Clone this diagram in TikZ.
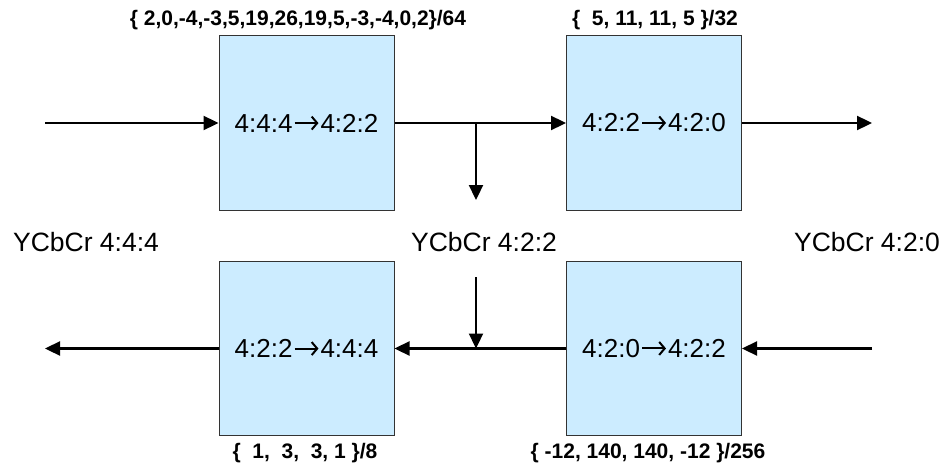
\documentclass[tikz,border=0pt]{standalone}
\usepackage{fontspec}
\setmainfont{Liberation Sans}
\usetikzlibrary{arrows.meta}
\newcommand{\rarr}{\kern1pt\tikz[baseline=0pt]\draw[line width=2pt,line cap=butt,-{Straight Barb[length=5.5pt,width=13pt]}] (0pt,9pt) -- (24pt,9pt);\kern1pt}
\begin{document}
\begin{tikzpicture}[x=1pt,y=-1pt,
  conv/.style={draw=black!80, line width=1pt, fill={rgb,255:red,204;green,236;blue,255},
    minimum width=175pt, minimum height=174pt, inner sep=0pt,
    font=\fontsize{26}{30}\selectfont},
  coef/.style={font=\bfseries\fontsize{21}{25}\selectfont, inner sep=0pt},
  fmt/.style={font=\fontsize{26.5}{30}\selectfont, inner sep=0pt},
  link/.style={line width=2.3pt, -{Triangle[length=15pt,width=14pt]}}]
\useasboundingbox (0,0) rectangle (947,468);
\node[conv] (b1) at (306.5,123) {4:4:4\rarr4:2:2};
\node[conv] (b2) at (654,123) {4:2:2\rarr4:2:0};
\node[conv] (b3) at (306.5,348.5) {4:2:2\rarr4:4:4};
\node[conv] (b4) at (654,348.5) {4:2:0\rarr4:2:2};
\node[coef] (c1) at (298,20) {\{ 2,0,-4,-3,5,19,26,19,5,-3,-4,0,2\}/64};
\node[coef] (c2) at (655,20) {\{~ 5, 11, 11, 5 \}/32};
\node[coef] (c3) at (305,453) {\{~ 1,~ 3,~ 3, 1 \}/8};
\node[coef] (c4) at (648,453) {\{ -12, 140, 140, -12 \}/256};
\node[fmt] (f1) at (86,242) {YCbCr 4:4:4};
\node[fmt] (f2) at (484,242) {YCbCr 4:2:2};
\node[fmt] (f3) at (867,242) {YCbCr 4:2:0};
\coordinate (inL) at (45,123);
\coordinate (outR) at (872,123);
\coordinate (inR) at (872,348.5);
\coordinate (outL) at (45,348.5);
\coordinate (tapT) at (476,123);
\coordinate (tapTend) at (476,200);
\coordinate (tapB) at (476,348.5);
\coordinate (tapBstart) at (476,277);
\draw[link] (inL) -- (b1.west);
\draw[link] (b1.east) -- (b2.west);
\draw[link] (tapT) -- (tapTend);
\draw[link] (b2.east) -- (outR);
\draw[link] (inR) -- (b4.east);
\draw[link] (b4.west) -- (b3.east);
\draw[link] (tapBstart) -- (tapB);
\draw[link] (b3.west) -- (outL);
\end{tikzpicture}
\end{document}
